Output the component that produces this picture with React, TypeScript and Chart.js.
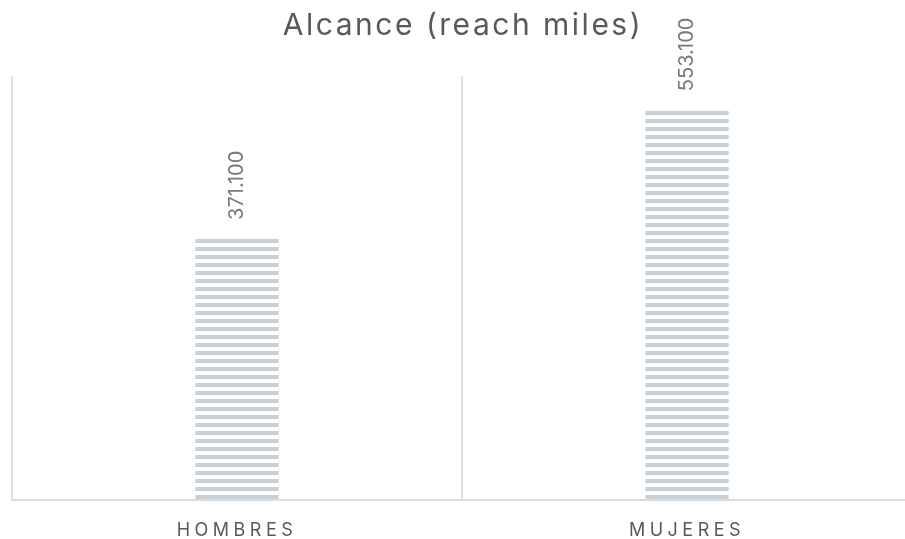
import React, { useEffect, useRef } from "react";
import { Chart, registerables } from "chart.js";

Chart.register(...registerables);

const categories: string[] = ["HOMBRES", "MUJERES"];
const reachValues: number[] = [371.1, 553.1];
const valueLabels: string[] = ["371.100", "553.100"];
const chartTitle = "Alcance (reach miles)";

function makeStripePattern(): CanvasPattern | string {
  const tile = document.createElement("canvas");
  tile.width = 8;
  tile.height = 8;
  const c = tile.getContext("2d");
  if (!c) return "#c9d1d8";
  c.fillStyle = "#c9d1d8";
  c.fillRect(0, 0, 8, 3);
  c.fillRect(0, 7, 8, 1);
  const main = document.createElement("canvas").getContext("2d");
  const p = main ? main.createPattern(tile, "repeat") : null;
  return p || "#c9d1d8";
}

const textPlugin = {
  id: "customText",
  beforeDraw(chart: any) {
    (chart.ctx as any).letterSpacing = "4.5px";
  },
  afterDraw(chart: any) {
    const ctx = chart.ctx as any;
    const area = chart.chartArea;
    ctx.save();
    ctx.letterSpacing = "2.5px";
    ctx.font = "400 30px Inter, 'Noto Sans', sans-serif";
    ctx.fillStyle = "#595959";
    ctx.textAlign = "center";
    ctx.textBaseline = "alphabetic";
    ctx.fillText(chartTitle, (area.left + area.right) / 2 + 1, 35);
    ctx.restore();

    const meta = chart.getDatasetMeta(0);
    meta.data.forEach((bar: any, i: number) => {
      ctx.save();
      ctx.letterSpacing = "0px";
      ctx.font = "400 20px Inter, 'Noto Sans', sans-serif";
      ctx.fillStyle = "#7a7a7a";
      ctx.translate(bar.x, bar.y - 18);
      ctx.rotate(-Math.PI / 2);
      ctx.textAlign = "left";
      ctx.textBaseline = "middle";
      ctx.fillText(valueLabels[i], 0, 0);
      ctx.restore();
    });
    ctx.letterSpacing = "0px";
  },
};

export default function App() {
  const canvasRef = useRef<HTMLCanvasElement | null>(null);

  useEffect(() => {
    if (!canvasRef.current) return;
    const chart = new Chart(canvasRef.current, {
      type: "bar",
      data: {
        labels: categories,
        datasets: [
          {
            label: "Alcance",
            data: reachValues,
            backgroundColor: makeStripePattern() as any,
            borderWidth: 0,
            barPercentage: 0.185,
            categoryPercentage: 1,
          },
        ],
      },
      options: {
        responsive: true,
        maintainAspectRatio: false,
        animation: false,
        layout: { padding: { top: 76, left: 12, right: 8, bottom: -21 } },
        plugins: {
          legend: { display: false },
          title: { display: false },
          tooltip: { enabled: false },
        },
        scales: {
          x: {
            offset: true,
            grid: {
              display: true,
              color: "#e0e0e0",
              lineWidth: 2,
              drawTicks: false,
              offset: true,
            },
            border: { display: true, color: "#dcdcdc", width: 2 },
            ticks: {
              color: "#595959",
              padding: 19,
              font: { family: "Inter, 'Noto Sans', sans-serif", size: 18 },
            },
          },
          y: {
            display: false,
            min: 0,
            max: 600,
          },
        },
      },
      plugins: [textPlugin],
    });
    return () => chart.destroy();
  }, []);

  return (
    <div
      style={{
        position: "fixed",
        left: 0,
        top: 0,
        width: 905,
        height: 539,
        overflow: "hidden",
        background: "#ffffff",
      }}
    >
      <div style={{ position: "relative", width: 920, height: 539 }}>
        <canvas ref={canvasRef} />
      </div>
    </div>
  );
}
